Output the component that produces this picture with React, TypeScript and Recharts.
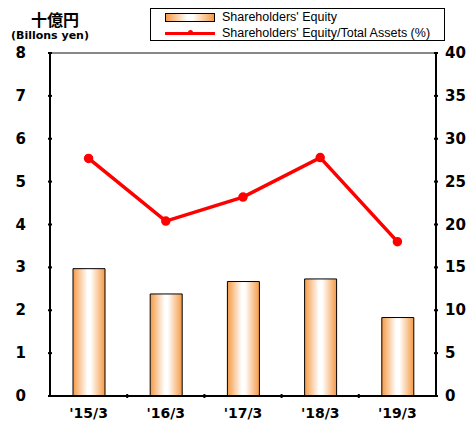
import { ComposedChart, Bar, Line, XAxis, YAxis, ReferenceLine, Legend } from 'recharts'

const periods = ["'15/3", "'16/3", "'17/3", "'18/3", "'19/3"]
const equity = [2.97, 2.38, 2.67, 2.73, 1.83]
const equityRatio = [27.7, 20.4, 23.2, 27.8, 18.0]
const leftTicks = [0, 1, 2, 3, 4, 5, 6, 7, 8]
const rightTicks = [0, 5, 10, 15, 20, 25, 30, 35, 40]

const data = periods.map((p, i) => ({ period: p, equity: equity[i], ratio: equityRatio[i] }))

const W = 471
const H = 425
const M = { left: 50, right: 35, top: 53, bottom: 29 }
const halfBand = (W - M.left - M.right) / periods.length / 2

const FONT = '"DejaVu Sans", sans-serif'

function LeftTick({ x, y, payload }: any) {
  return (
    <g>
      <line x1={x} x2={x + 4} y1={y} y2={y} stroke="#000" strokeWidth={2} />
      <text x={x - 22} y={y} dy={5} textAnchor="end" fontSize={15} fontWeight="bold" fontFamily={FONT} fill="#000">
        {payload.value}
      </text>
    </g>
  )
}

function RightTick({ x, y, payload }: any) {
  return (
    <g>
      <line x1={x - 4} x2={x} y1={y} y2={y} stroke="#000" strokeWidth={2} />
      <text x={x + 7} y={y} dy={5} textAnchor="start" fontSize={15} fontWeight="bold" fontFamily={FONT} fill="#000">
        {payload.value}
      </text>
    </g>
  )
}

function BottomTick({ x, y, payload, index }: any) {
  return (
    <g>
      {index < periods.length - 1 && (
        <line x1={x + halfBand} x2={x + halfBand} y1={y} y2={y - 4} stroke="#000" strokeWidth={2} />
      )}
      <text x={x} y={y + 20} textAnchor="middle" fontSize={14} fontWeight="bold" fontFamily={FONT} fill="#000">
        {payload.value}
      </text>
    </g>
  )
}

function LegendBox() {
  const row = { display: 'flex', alignItems: 'center', height: 16 }
  return (
    <div
      style={{
        position: 'absolute',
        left: 150,
        top: 8,
        width: 295,
        height: 33,
        border: '1px solid #000',
        background: '#fff',
        fontFamily: '"Liberation Sans", Arial, sans-serif',
        fontSize: 12.5,
        color: '#000',
        boxSizing: 'border-box',
        padding: '0 0 0 14px',
      }}
    >
      <div style={row}>
        <div
          style={{
            width: 48,
            height: 7,
            border: '1px solid #000',
            background: 'linear-gradient(to right, #f59a45, #ffffff 45%, #ffffff 55%, #f59a45)',
            marginRight: 7,
          }}
        />
        Shareholders' Equity
      </div>
      <div style={row}>
        <div style={{ position: 'relative', width: 50, height: 3, background: '#ff0000', marginRight: 7 }}>
          <div
            style={{
              position: 'absolute',
              left: 23,
              top: -1.5,
              width: 5,
              height: 5,
              borderRadius: 3,
              background: '#ff0000',
            }}
          />
        </div>
        Shareholders' Equity/Total Assets (%)
      </div>
    </div>
  )
}

export default function App() {
  return (
    <div style={{ position: 'absolute', left: 0, top: 0, width: W, height: H, background: '#fff' }}>
      <div
        style={{
          position: 'absolute',
          left: 31,
          top: 7,
          fontSize: 16,
          fontWeight: 'bold',
          fontFamily: '"Noto Sans CJK JP", sans-serif',
        }}
      >
        十億円
      </div>
      <div
        style={{
          position: 'absolute',
          left: 11,
          top: 29,
          fontSize: 11,
          fontWeight: 'bold',
          fontFamily: FONT,
        }}
      >
        (Billons yen)
      </div>
      <ComposedChart width={W} height={H} data={data} margin={{ top: M.top, right: 0, bottom: 0, left: 0 }}>
        <defs>
          <linearGradient id="barGrad" x1="0" y1="0" x2="1" y2="0">
            <stop offset="0%" stopColor="#f59a45" />
            <stop offset="45%" stopColor="#ffffff" />
            <stop offset="55%" stopColor="#ffffff" />
            <stop offset="100%" stopColor="#f59a45" />
          </linearGradient>
        </defs>
        <XAxis
          dataKey="period"
          height={M.bottom}
          axisLine={{ stroke: '#000', strokeWidth: 2 }}
          tickLine={false}
          tickSize={0}
          tick={<BottomTick />}
          interval={0}
        />
        <YAxis
          yAxisId="left"
          orientation="left"
          width={M.left}
          domain={[0, 8]}
          ticks={leftTicks}
          axisLine={{ stroke: '#000', strokeWidth: 2 }}
          tickLine={false}
          tickSize={0}
          tick={<LeftTick />}
          interval={0}
        />
        <YAxis
          yAxisId="right"
          orientation="right"
          width={M.right}
          domain={[0, 40]}
          ticks={rightTicks}
          axisLine={{ stroke: '#000', strokeWidth: 2 }}
          tickLine={false}
          tickSize={0}
          tick={<RightTick />}
          interval={0}
        />
        <ReferenceLine yAxisId="left" y={8} stroke="#888" strokeWidth={2} />
        <Bar
          yAxisId="left"
          dataKey="equity"
          barSize={32}
          fill="url(#barGrad)"
          stroke="#000"
          strokeWidth={1}
          isAnimationActive={false}
        />
        <Line
          yAxisId="right"
          dataKey="ratio"
          stroke="#ff0000"
          strokeWidth={3.5}
          dot={{ r: 3, fill: '#ff0000', stroke: '#ff0000' }}
          isAnimationActive={false}
        />
        <Legend content={() => null} />
      </ComposedChart>
      <LegendBox />
    </div>
  )
}
